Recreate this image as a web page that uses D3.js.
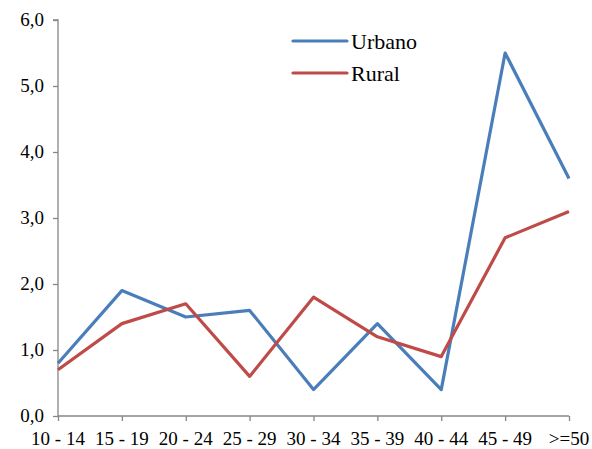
<!DOCTYPE html>
<html>
<head>
<meta charset="utf-8">
<script src="https://cdn.jsdelivr.net/npm/d3@7"></script>
<style>
body { margin: 0; background: #fff; }
</style>
</head>
<body>
<svg width="592" height="449"></svg>
<script>
var categories = ["10 - 14", "15 - 19", "20 - 24", "25 - 29", "30 - 34", "35 - 39", "40 - 44", "45 - 49", ">=50"];
var urbano = [0.8, 1.9, 1.5, 1.6, 0.4, 1.4, 0.4, 5.5, 3.6];
var rural = [0.7, 1.4, 1.7, 0.6, 1.8, 1.2, 0.9, 2.7, 3.1];
var yTicks = [0, 1, 2, 3, 4, 5, 6];

var series = [
    {name: "Urbano", values: urbano, color: "#4a7ebb"},
    {name: "Rural", values: rural, color: "#be4b48"}
];

var svg = d3.select("svg");

var x = d3.scalePoint()
    .domain(categories)
    .range([58, 569]);

var y = d3.scaleLinear()
    .domain([0, 6])
    .range([416, 20]);

var fmt = function(d) { return d.toFixed(1).replace(".", ","); };

// axes: lines and ticks from d3, labels drawn below as plain svg text
var yAxis = svg.append("g")
    .attr("transform", "translate(58,0)")
    .call(d3.axisLeft(y).tickValues(yTicks).tickSize(5).tickFormat(""));

var xAxis = svg.append("g")
    .attr("transform", "translate(0,416)")
    .call(d3.axisBottom(x).tickSize(5).tickFormat(""));

svg.selectAll(".tick text").remove();
svg.selectAll(".domain").attr("stroke", "#868686").attr("stroke-width", 1.3);
svg.selectAll(".tick line").attr("stroke", "#868686").attr("stroke-width", 1.3);
yAxis.select(".domain").attr("d", "M-5,20H0V416");
xAxis.select(".domain").attr("d", "M58,0H569");

svg.selectAll(".ylab")
    .data(yTicks)
    .enter().append("text")
    .attr("class", "ylab")
    .attr("x", 44)
    .attr("y", function(d) { return y(d); })
    .attr("dy", "0.32em")
    .attr("text-anchor", "end")
    .style("font-family", "'Liberation Serif'")
    .style("font-size", "19px")
    .text(fmt);

svg.selectAll(".xlab")
    .data(categories)
    .enter().append("text")
    .attr("class", "xlab")
    .attr("x", function(d) { return x(d); })
    .attr("y", 445)
    .attr("text-anchor", "middle")
    .style("font-family", "'Liberation Serif'")
    .style("font-size", "19px")
    .text(function(d) { return d; });

var line = d3.line()
    .x(function(d, i) { return x(categories[i]); })
    .y(function(d) { return y(d); });

svg.selectAll(".series")
    .data(series)
    .enter().append("path")
    .attr("class", "series")
    .attr("fill", "none")
    .attr("stroke", function(d) { return d.color; })
    .attr("stroke-width", 3.2)
    .attr("stroke-linejoin", "round")
    .attr("d", function(d) { return line(d.values); });

// legend
svg.selectAll(".legline")
    .data(series)
    .enter().append("line")
    .attr("class", "legline")
    .attr("x1", 293).attr("x2", 347)
    .attr("y1", function(d, i) { return 41 + i * 32; })
    .attr("y2", function(d, i) { return 41 + i * 32; })
    .attr("stroke", function(d) { return d.color; })
    .attr("stroke-width", 3.2)
    .attr("stroke-linecap", "round");

svg.selectAll(".legtext")
    .data(series)
    .enter().append("text")
    .attr("class", "legtext")
    .attr("x", 351)
    .attr("y", function(d, i) { return 41 + i * 32; })
    .attr("dy", "0.35em")
    .style("font-family", "'Liberation Serif'")
    .style("font-size", "22px")
    .text(function(d) { return d.name; });
</script>
</body>
</html>
